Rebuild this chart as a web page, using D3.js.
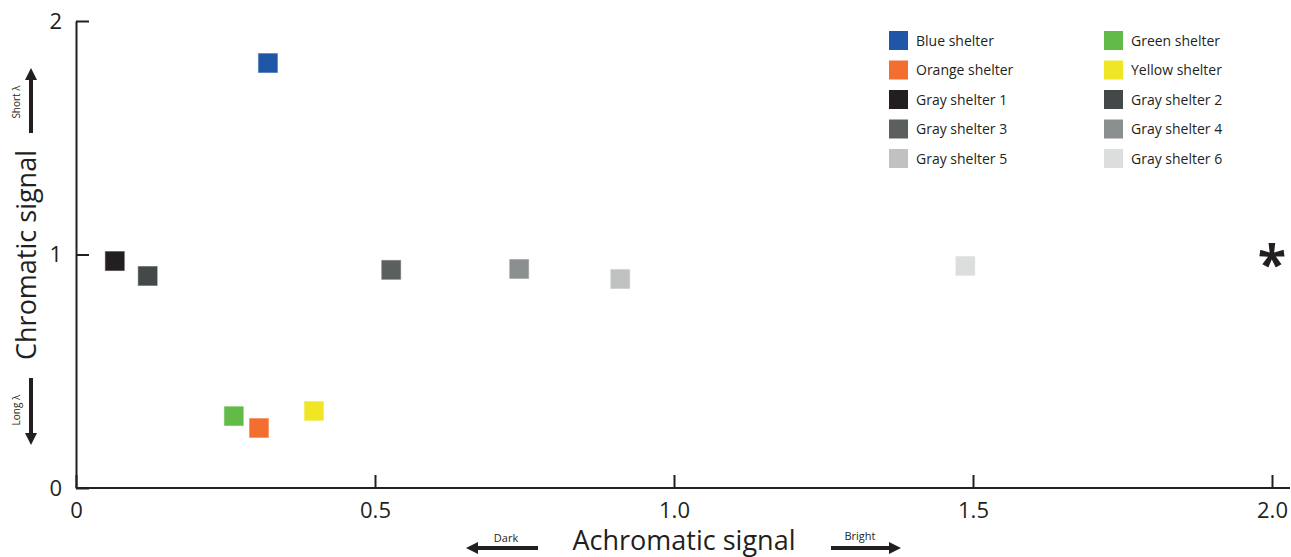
<!DOCTYPE html>
<html>
<head>
<meta charset="utf-8">
<title></title>
<style>
    body { margin: 0; background: #fff; }
    text { font-family: "Open Sans", "Noto Sans", sans-serif; fill: #231f20; }
</style>
</head>
<body>
<script src="https://cdn.jsdelivr.net/npm/d3@7/dist/d3.min.js"></script>
<script>
    var width = 1291, height = 557;

    // shelters: achromatic (x) and chromatic (y) signal
    const names = ["Blue shelter", "Green shelter", "Orange shelter", "Yellow shelter",
        "Gray shelter 1", "Gray shelter 2", "Gray shelter 3", "Gray shelter 4",
        "Gray shelter 5", "Gray shelter 6"];
    const achromatic = [0.321, 0.264, 0.306, 0.398, 0.065, 0.120, 0.527, 0.741, 0.910, 1.487];
    const chromatic  = [1.82, 0.308, 0.257, 0.330, 0.972, 0.908, 0.934, 0.938, 0.895, 0.951];
    const colors = ["#1f56a8", "#62bb47", "#f26f2f", "#efe726", "#231f20", "#434849",
        "#5b605f", "#8c8f8f", "#c0c1c1", "#dcdddd"];
    // background reference point
    const bgPoint = [2.0, 0.98];
    const xTicks = [0, 0.5, 1.0, 1.5, 2.0];
    const yTicks = [0, 1, 2];

    var svg = d3.select("body").append("svg")
        .attr("width", width)
        .attr("height", height);

    var x = d3.scaleLinear().domain([0, 2]).range([76, 1272]);
    var y = d3.scaleLinear().domain([0, 2]).range([488, 21]);
    var ink = "#231f20";

    // axes
    svg.append("g")
        .attr("transform", "translate(0," + y(0) + ")")
        .call(d3.axisBottom(x).tickValues(xTicks).tickSizeInner(-13).tickSizeOuter(0)
            .tickPadding(14).tickFormat(function(d){ return d == 0 ? "0" : d3.format(".1f")(d); }))
        .call(function(g){
            g.select(".domain").attr("d", "M" + x(0) + ",0H1290").attr("stroke", ink).attr("stroke-width", 2);
            g.selectAll(".tick line").attr("stroke", ink).attr("stroke-width", 2);
            g.selectAll(".tick text").attr("font-size", 22)
                .attr("font-family", "Open Sans").attr("fill", ink);
        });

    svg.append("g")
        .attr("transform", "translate(" + x(0) + ",0)")
        .call(d3.axisLeft(y).tickValues(yTicks).tickSizeInner(-13).tickSizeOuter(0)
            .tickPadding(14).tickFormat(d3.format("d")))
        .call(function(g){
            g.select(".domain").attr("stroke", ink).attr("stroke-width", 2);
            g.selectAll(".tick line").attr("stroke", ink).attr("stroke-width", 2);
            g.selectAll(".tick text").attr("font-size", 22)
                .attr("font-family", "Open Sans").attr("fill", ink);
        });

    // points
    var idx = d3.range(names.length);
    var s = 20;
    svg.append("g").selectAll("rect")
        .data(idx)
        .enter()
        .append("rect")
        .attr("x", function(i){ return x(achromatic[i]) - s/2; })
        .attr("y", function(i){ return y(chromatic[i]) - s/2; })
        .attr("width", s).attr("height", s)
        .attr("fill", function(i){ return colors[i]; })
        .attr("stroke", "#fff").attr("stroke-opacity", 0.6).attr("stroke-width", 1);

    svg.append("text")
        .attr("x", x(bgPoint[0])).attr("y", y(bgPoint[1]) + 24)
        .attr("text-anchor", "middle")
        .attr("font-size", 52).attr("font-weight", "bold")
        .text("*");

    // legend (two columns)
    var legend = svg.append("g").selectAll("g")
        .data(idx)
        .enter()
        .append("g")
        .attr("transform", function(i){
            var col = i % 2, row = Math.floor(i / 2);
            return "translate(" + (889 + col * 215) + "," + (31 + row * 29.5) + ")";
        });
    legend.append("rect")
        .attr("width", 19).attr("height", 19)
        .attr("fill", function(i){ return colors[i]; });
    legend.append("text")
        .attr("x", 27).attr("y", 14.5)
        .attr("font-size", 14)
        .text(function(i){ return names[i]; });

    // axis titles
    svg.append("text")
        .attr("transform", "translate(36,255) rotate(-90)")
        .attr("text-anchor", "middle")
        .attr("font-size", 27)
        .text("Chromatic signal");
    svg.append("text")
        .attr("x", 684).attr("y", 550)
        .attr("text-anchor", "middle")
        .attr("font-size", 27)
        .text("Achromatic signal");

    // direction arrows
    svg.append("defs").append("marker")
        .attr("id", "head")
        .attr("viewBox", "0 0 10 10")
        .attr("refX", 5).attr("refY", 5)
        .attr("markerWidth", 3).attr("markerHeight", 3)
        .attr("orient", "auto")
        .append("path").attr("d", "M0,0L10,5L0,10Z").attr("fill", ink);

    var arrows = [
        {x1: 538, y1: 548, x2: 472, y2: 548},
        {x1: 831, y1: 548, x2: 895, y2: 548},
        {x1: 31, y1: 133, x2: 31, y2: 74},
        {x1: 31, y1: 378, x2: 31, y2: 439}
    ];
    svg.append("g").selectAll("line")
        .data(arrows)
        .enter()
        .append("line")
        .attr("x1", function(d){ return d.x1; }).attr("y1", function(d){ return d.y1; })
        .attr("x2", function(d){ return d.x2; }).attr("y2", function(d){ return d.y2; })
        .attr("stroke", ink).attr("stroke-width", 4)
        .attr("marker-end", "url(#head)");

    svg.append("text").attr("x", 506).attr("y", 542).attr("text-anchor", "middle")
        .attr("font-size", 11).text("Dark");
    svg.append("text").attr("x", 860).attr("y", 540).attr("text-anchor", "middle")
        .attr("font-size", 11).text("Bright");
    svg.append("text").attr("transform", "translate(20,102) rotate(-90)").attr("text-anchor", "middle")
        .attr("font-size", 10).text("Short λ");
    svg.append("text").attr("transform", "translate(20,410) rotate(-90)").attr("text-anchor", "middle")
        .attr("font-size", 10).text("Long λ");
</script>
</body>
</html>
